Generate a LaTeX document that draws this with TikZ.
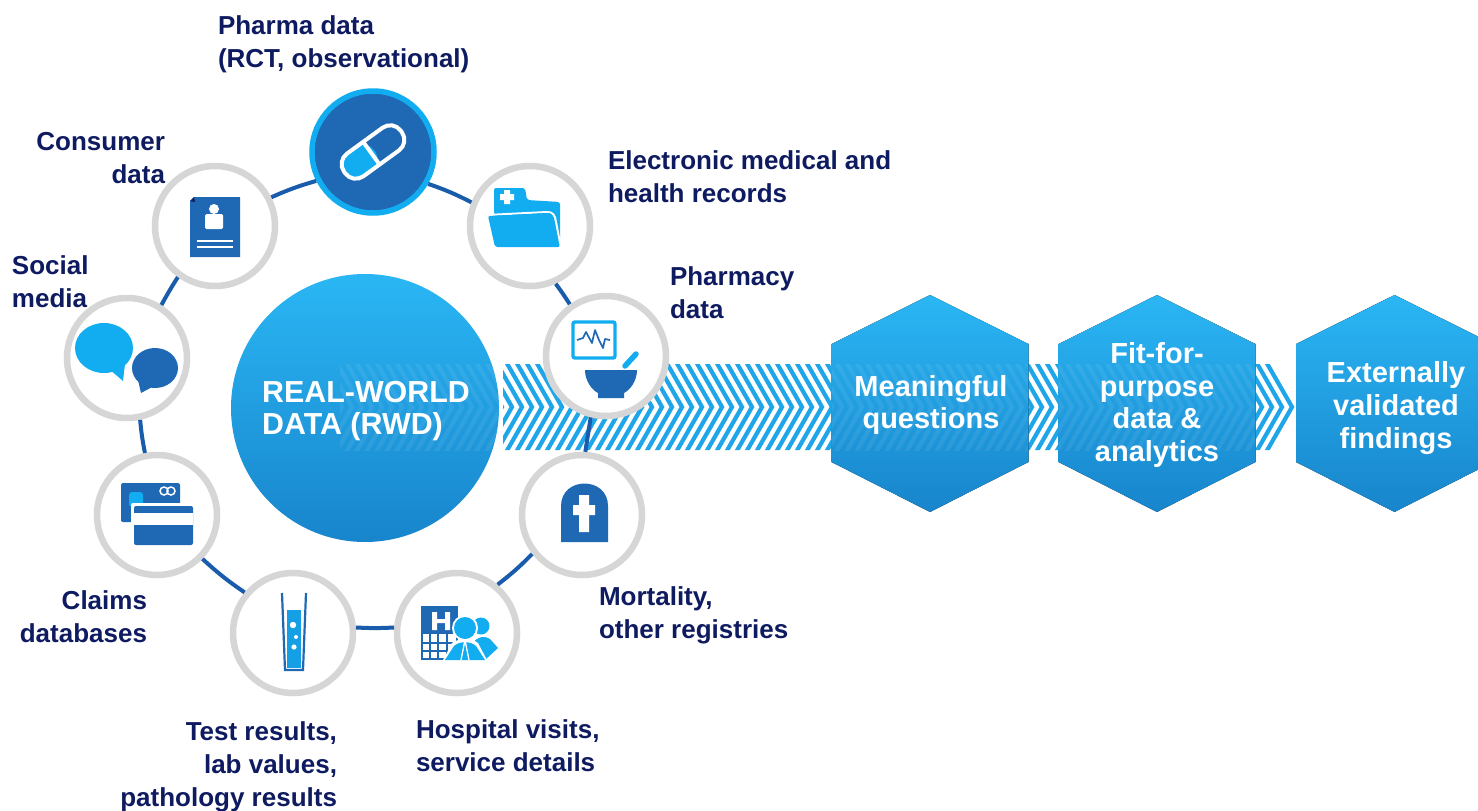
\documentclass[tikz,border=0pt]{standalone}
\usepackage{fontspec}
\setmainfont{Liberation Sans}
\definecolor{navy}{HTML}{0F1B60}
\definecolor{lightb}{HTML}{12ADF0}
\definecolor{darkb}{HTML}{1F68B4}
\definecolor{linkb}{HTML}{1A5CAC}
\definecolor{ringg}{HTML}{D6D6D6}
\definecolor{gradtop}{HTML}{2AB6F4}
\definecolor{gradbot}{HTML}{1885CC}
\definecolor{stripeb}{HTML}{1FA6E8}
\tikzset{
 ringnode/.style={circle,draw=ringg,fill=white,line width=6.5pt,minimum size=120pt,inner sep=0pt},
 pharmanode/.style={circle,draw=lightb,fill=darkb,line width=5.5pt,minimum size=122pt,inner sep=0pt},
 linkline/.style={draw=linkb,line width=4pt},
 lab/.style={text=navy,font=\fontsize{26}{33}\selectfont\bfseries,inner sep=0pt,outer sep=0pt},
 inner/.style={text=white,font=\fontsize{29}{32.8}\selectfont\bfseries,inner sep=0pt,align=center},
 grad/.style={top color=gradtop,bottom color=gradbot,draw=none},
}
\newcommand{\mystripes}{%
 \foreach \k in {0,...,96}{%
  \pgfmathsetmacro{\xa}{1267-10*\k}%
  \draw[line width=4.2pt,miter limit=10] (\xa-6,353) -- (\xa+25,407) -- (\xa-6,461);
 }}
\newcommand{\hexpath}[1]{(#1,295) -- (#1+98.5,344) -- (#1+98.5,462) -- (#1,512) -- (#1-98.5,462) -- (#1-98.5,344) -- cycle}
\begin{document}
\begin{tikzpicture}[x=1pt,y=-1pt]
\clip (0,0) rectangle (1478,811);
\fill[white] (0,0) rectangle (1478,811);
% chevron band
\begin{scope}
 \clip (503,364) -- (1271,364) -- (1296,407) -- (1271,450) -- (503,450) -- cycle;
 \begin{scope}[draw=stripeb]\mystripes\end{scope}
\end{scope}
% central disc and hexagons
\node[circle,grad,minimum size=268pt,inner sep=0pt] (rwd) at (365,408) {};
\fill[grad] \hexpath{930};
\fill[grad] \hexpath{1157};
\fill[grad] \hexpath{1394.5};
\begin{scope}
 \clip (340,364) rectangle (1478,450);
 \begin{scope}
  \clip (365,408) circle[radius=134pt] (832,295) rectangle (1028,512) (1058.5,295) rectangle (1255.5,512) (1296,295) rectangle (1478,512);
  \begin{scope}[draw=white,opacity=.07]\mystripes\end{scope}
 \end{scope}
\end{scope}
\node[inner,align=left,font=\fontsize{30.4}{32.5}\selectfont\bfseries] (rwdtext) at (366,411) {REAL-WORLD\\DATA (RWD)};
\node[inner] (q1) at (931,405) {Meaningful\\questions};
\node[inner] (q2) at (1157,405) {Fit-for-\\purpose\\data \&\\analytics};
\node[inner] (q3) at (1396,408) {Externally\\validated\\findings};
% ring of sources
\node[pharmanode] (pharma) at (373,152) {};
\node[ringnode] (emr) at (530,226) {};
\node[ringnode] (pharmacy) at (606,356) {};
\node[ringnode] (mort) at (582,515) {};
\node[ringnode] (hosp) at (457,633) {};
\node[ringnode] (test) at (293,633) {};
\node[ringnode] (claims) at (157,515) {};
\node[ringnode] (social) at (127,358) {};
\node[ringnode] (consumer) at (215,226) {};
\draw[linkline] (pharma.-30) to[bend left=4] (emr.158);
\draw[linkline] (emr.-66) to[bend left=2] (pharmacy.125);
\draw[linkline] (pharmacy.-104) to (mort.87);
\draw[linkline] (mort.218) to[bend left=4] (hosp.50);
\draw[linkline] (hosp.175) to[bend left=3] (test.5);
\draw[linkline] (test.140) to[bend left=4] (claims.-44);
\draw[linkline] (claims.101) to[bend left=3] (social.-78);
\draw[linkline] (social.57) to[bend left=2] (consumer.234);
\draw[linkline] (consumer.27) to[bend left=4] (pharma.207);
% pill
\begin{scope}[shift={(pharma.center)},rotate=36]
 \fill[lightb,rounded corners=13pt] (-35,-14) rectangle (2,14);
 \fill[lightb] (-10,-14) rectangle (-2,14);
 \draw[white,line width=4pt,rounded corners=13pt] (-35,-14) rectangle (35,14);
 \draw[white,line width=4pt] (-2,-14) -- (-2,14);
\end{scope}
% document
\fill[darkb] (194,197) -- (240,197) -- (240,257) -- (190,257) -- (190,201) -- cycle;
\fill[navy] (190,201) -- (194,197) -- (195,202) -- cycle;
\fill[white] (214,209) circle[radius=5pt];
\fill[white,rounded corners=1.5pt] (205,214) rectangle (223,229);
\draw[white,line width=1.6pt] (197,241) -- (233,241) (197,247) -- (233,247);
% folder
\fill[lightb,rounded corners=2pt] (494,188) -- (525,188) -- (527,200) -- (560,202) -- (560,240) -- (500,240) -- (494,212) -- cycle;
\draw[white,line width=2pt] (487,215) -- (547,212) .. controls (553,212) and (555,215) .. (556,222) -- (561,248);
\fill[lightb,rounded corners=2pt] (488,216) -- (547,213) .. controls (551,213) and (553,216) .. (554,222) -- (560,247) -- (495,247) -- cycle;
\fill[white] (504,190) rectangle (510,204) (500,194) rectangle (514,200);
% monitor and mortar
\draw[lightb,line width=3.4pt,rounded corners=2pt] (573,322) rectangle (615,358);
\draw[darkb,line width=1.7pt,line join=round] (577,340) -- (583,338) -- (586,332) -- (592,343) -- (595,330) -- (599,340) -- (603,348) -- (605,339) -- (610,340);
\draw[lightb,line width=5.5pt,line cap=round] (625,366) -- (636,354);
\fill[darkb] (585,370) -- (637,370) .. controls (637,381) and (630,390) .. (624,393) -- (624,398) -- (598,398) -- (598,393) .. controls (592,390) and (585,381) .. (585,370) -- cycle;
% tombstone
\fill[darkb] (561,542) -- (561,506) .. controls (561,476) and (608,476) .. (608,506) -- (608,542) -- cycle;
\fill[white] (579,495) rectangle (589,532) (573,505) rectangle (595,515);
% hospital and people
\fill[white] (421,606) rectangle (458,660);
\draw[darkb,line width=2pt] (422,607) rectangle (457,659);
\fill[darkb] (421,606) rectangle (458,634);
\fill[white] (432,612) rectangle (437,630) (445,612) rectangle (450,630) (432,619) rectangle (450,623);
\draw[darkb,line width=1.4pt] (421,643) -- (455,643) (421,651) -- (455,651) (430,634) -- (430,660) (438,634) -- (438,660) (447,634) -- (447,660);
\fill[lightb] (481,626) circle[radius=8.5pt];
\fill[lightb] (470,660) -- (472,645) .. controls (476,636) and (486,635) .. (491,640) -- (498,648) -- (485,660) -- cycle;
\fill[white] (465,628) circle[radius=13pt];
\fill[lightb] (465,628) circle[radius=11pt];
\fill[white] (442,662) -- (452,643) .. controls (458,638) and (472,638) .. (478,643) -- (488,662) -- cycle;
\fill[lightb] (445,660) -- (454,646) .. controls (459,641) and (471,641) .. (476,646) -- (485,660) -- cycle;
\draw[white,line width=1.3pt] (465,640) -- (461,660) (465,640) -- (469,660);
% test tube
\fill[lightb!80!darkb] (287,610) rectangle (301,668);
\fill[white] (293,625) circle[radius=3.2pt] (296,637) circle[radius=2pt] (294,647) circle[radius=2.6pt];
\draw[darkb,line width=2.2pt] (282,593) -- (285,670) -- (303,670) -- (306,593);
% cards
\fill[darkb,rounded corners=1.5pt] (121,483) rectangle (180,522);
\fill[lightb,rounded corners=3pt] (129,492) rectangle (143,507);
\draw[white,line width=1.5pt] (164,491) circle[radius=4pt] (171,491) circle[radius=4pt];
\fill[white,rounded corners=2pt] (131,503) rectangle (196,548);
\fill[darkb,rounded corners=2pt] (134,506) rectangle (193,545);
\fill[white] (134,513) rectangle (193,525);
% speech bubbles
\fill[lightb] (104,348) ellipse[x radius=29pt,y radius=25pt];
\fill[lightb] (108,368) -- (123,381) -- (125,364) -- cycle;
\fill[white] (155,368) ellipse[x radius=26pt,y radius=23pt];
\fill[darkb] (155,368) ellipse[x radius=23pt,y radius=20pt];
\fill[darkb] (138,380) -- (141,393) -- (154,386) -- cycle;
% labels
\node[lab,anchor=north west,align=left] (l1) at (218,16) {Pharma data\\(RCT, observational)};
\node[lab,anchor=north west,align=left] (l2) at (608,151) {Electronic medical and\\health records};
\node[lab,anchor=north west,align=left] (l3) at (670,267) {Pharmacy\\data};
\node[lab,anchor=north west,align=left] (l4) at (599,587) {Mortality,\\other registries};
\node[lab,anchor=north west,align=left] (l5) at (416,720) {Hospital visits,\\service details};
\node[lab,anchor=north east,align=right] (l6) at (337,722) {Test results,\\lab values,\\pathology results};
\node[lab,anchor=north east,align=right] (l7) at (147,591) {Claims\\databases};
\node[lab,anchor=north west,align=left] (l8) at (12,256) {Social\\media};
\node[lab,anchor=north east,align=right] (l9) at (165,132) {Consumer\\data};
\end{tikzpicture}
\end{document}
